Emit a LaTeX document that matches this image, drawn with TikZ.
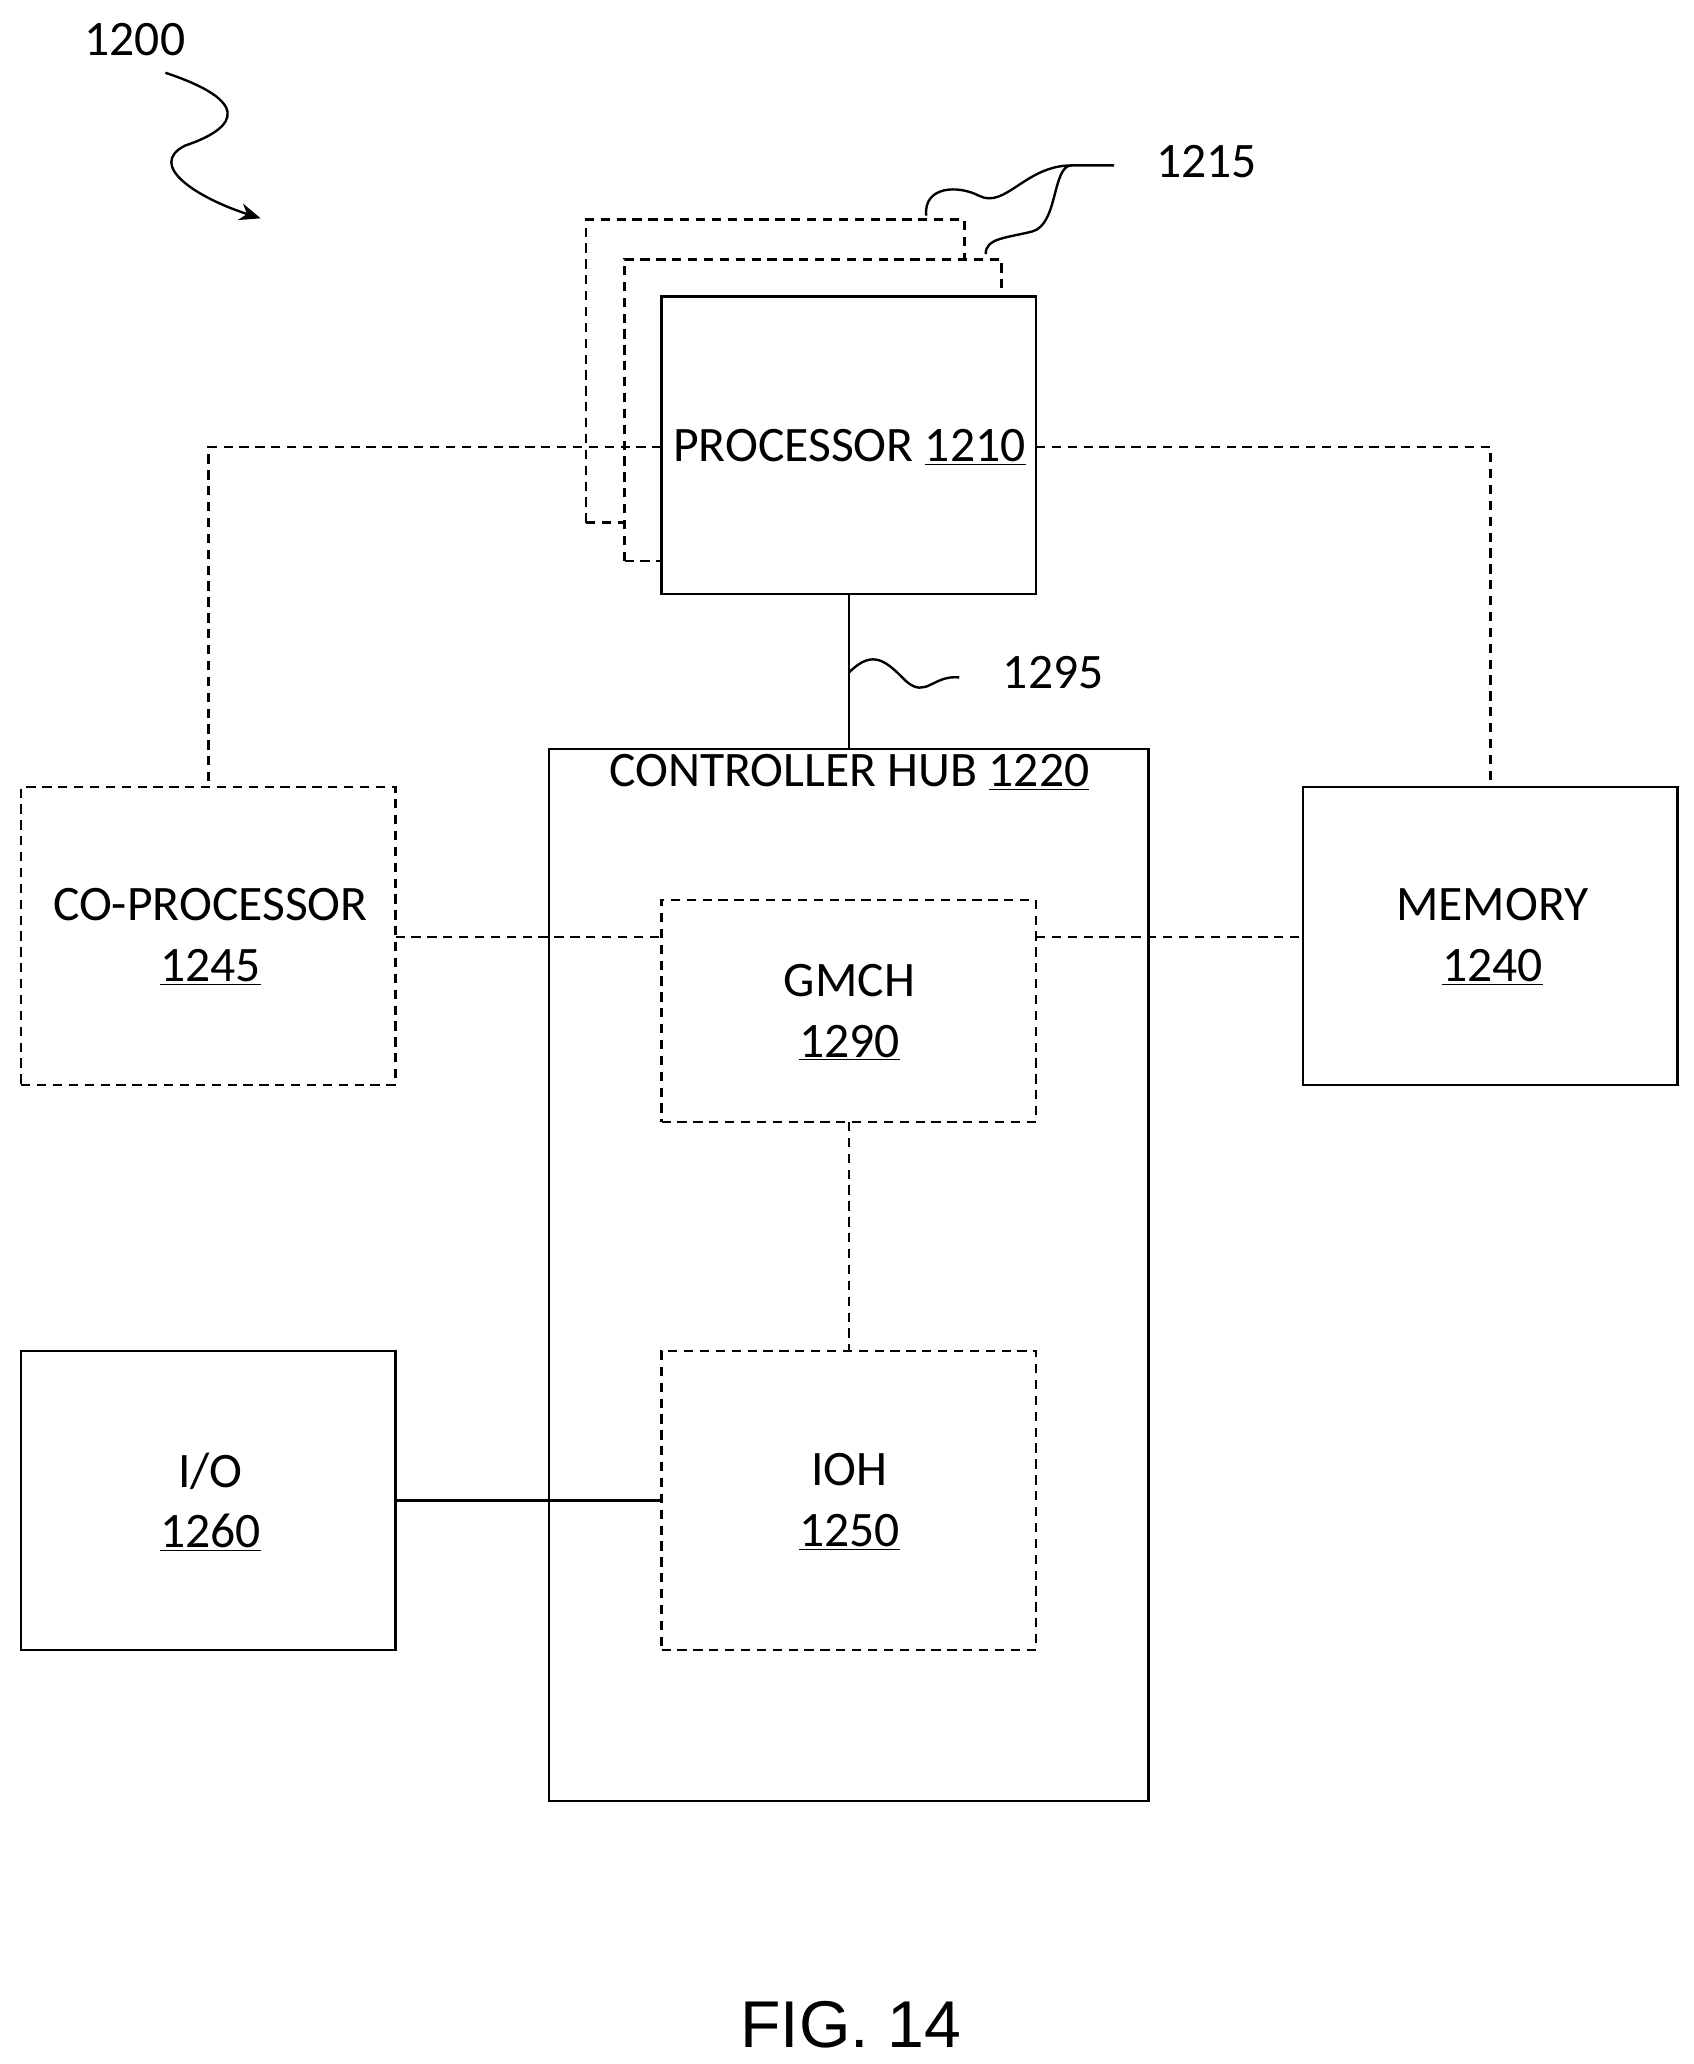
\documentclass[tikz,border=0pt]{standalone}
\usetikzlibrary{arrows.meta}
\usepackage{fontspec}
\setmainfont{Carlito}
\newfontfamily\figfont{Liberation Sans}
\begin{document}
\begin{tikzpicture}[x=1pt,y=-1pt,
  every node/.style={outer sep=0pt},
  box/.style={draw,line width=1.8pt},
  dbox/.style={draw,line width=1.8pt,dash pattern=on 7pt off 5pt},
  dl/.style={line width=1.8pt,dash pattern=on 7pt off 5pt},
  sl/.style={line width=1.8pt},
  lab/.style={font=\fontsize{37.5}{46}\selectfont,align=center}]
\useasboundingbox (0,0) rectangle (1280,1560);
\fill[white] (0,0) rectangle (1280,1560);
% back processor copies
\draw[dl] (443,395) -- (443,166) -- (729,166) -- (729,196);
\draw[dl] (443,395) -- (472,395);
\draw[dl] (472,424) -- (472,196) -- (757,196) -- (757,224);
\draw[dl] (472,424) -- (500,424);
\node[box,minimum width=283pt,minimum height=225pt,anchor=north west,fill=white] (proc) at (500,224) {};
\node[lab] (proct) at (642,338) {PROCESSOR \underline{1210}};
\node[box,minimum width=453pt,minimum height=795pt,anchor=north west] (hub) at (415,566) {};
\node[lab,anchor=north] (hubt) at (642,567) {CONTROLLER HUB \underline{1220}};
\node[dbox,minimum width=283pt,minimum height=168pt,anchor=north west] (gmch) at (500,680) {};
\node[lab] at (642,765) {GMCH\\\underline{1290}};
\node[dbox,minimum width=283pt,minimum height=226pt,anchor=north west] (ioh) at (500,1021) {};
\node[lab] at (642,1135) {IOH\\\underline{1250}};
\node[dbox,minimum width=283pt,minimum height=225pt,anchor=north west] (cop) at (16,595) {};
\node[lab] at (159,708) {CO-PROCESSOR\\\underline{1245}};
\node[box,minimum width=283pt,minimum height=225pt,anchor=north west] (mem) at (985,595) {};
\node[lab] at (1128,708) {MEMORY\\\underline{1240}};
\node[box,minimum width=283pt,minimum height=226pt,anchor=north west] (io) at (16,1021) {};
\node[lab] at (159,1135) {I/O\\\underline{1260}};
% connectors
\draw[dl] (proc.west |- 0,338) -- (cop.north |- 0,338) -- (cop.north);
\draw[dl] (proc.east |- 0,338) -- (mem.north |- 0,338) -- (mem.north);
\draw[sl] (proc.south) -- (hub.north);
\draw[dl] (cop.east |- 0,708) -- (gmch.west |- 0,708);
\draw[dl] (gmch.east |- 0,708) -- (mem.west |- 0,708);
\draw[dl] (gmch.south) -- (ioh.north);
\draw[sl] (io.east) -- (ioh.west);
% reference labels
\node[lab] (r1200) at (102,30) {1200};
\coordinate (a1200) at (197,165);
\draw[sl,-{Stealth[length=16pt,width=13pt]}] (125,55) .. controls (200,80) and (170,100) .. (140,110) .. controls (110,125) and (150,150) .. (a1200);
\node[lab] (r1215) at (912,122) {1215};
\draw[sl] (700,163) .. controls (698,140) and (725,140) .. (740,148) .. controls (760,158) and (775,125) .. (810,125) -- (842,125);
\draw[sl] (745,192) .. controls (745,180) and (760,180) .. (780,175) .. controls (800,170) and (795,125) .. (810,125);
\node[lab] (r1295) at (796,508) {1295};
\coordinate (s0) at (642,508);
\draw[sl] (s0) .. controls (660,490) and (670,500) .. (685,515) .. controls (700,528) and (705,510) .. (725,512);
\node[font=\figfont\fontsize{50}{60}\selectfont] (fig) at (643,1530) {FIG. 14};
\end{tikzpicture}
\end{document}
